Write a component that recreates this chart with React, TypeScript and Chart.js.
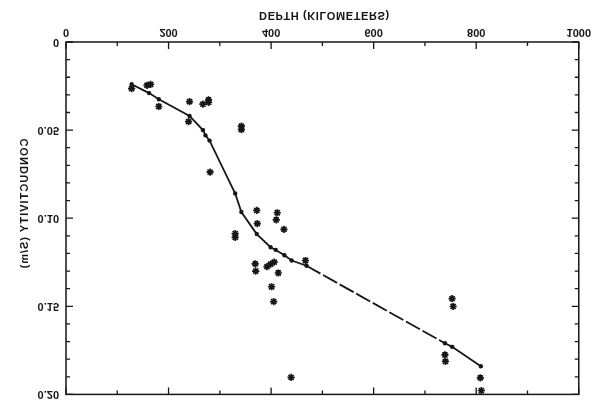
import React, { useEffect, useRef } from "react";
import { Chart, registerables } from "chart.js";

Chart.register(...registerables);

// Model curve (depth in km, conductivity in S/m)
const MODEL_DEPTH = [128, 162, 181, 241, 267, 272, 280, 330, 342, 372, 399, 409, 426, 440, 469, 739, 753, 809];
const MODEL_COND = [0.024, 0.029, 0.0325, 0.042, 0.05, 0.053, 0.056, 0.086, 0.0965, 0.109, 0.1165, 0.118, 0.121, 0.124, 0.127, 0.171, 0.173, 0.184];
const DASHED_SEGMENT_START = 14;

// Observations (asterisks)
const OBS_DEPTH = [128, 158, 165, 181, 241, 267, 278, 278, 239, 342, 342, 281, 372, 373, 412, 410, 425, 330, 330, 369, 370, 392, 399, 406, 414, 467, 401, 405, 439, 753, 755, 739, 740, 808, 810];
const OBS_COND = [0.0265, 0.0246, 0.0241, 0.0366, 0.0338, 0.0353, 0.0343, 0.0329, 0.0452, 0.0478, 0.0497, 0.0739, 0.0956, 0.1031, 0.0969, 0.101, 0.1063, 0.1087, 0.1109, 0.1259, 0.13, 0.1275, 0.1261, 0.1249, 0.1311, 0.124, 0.1389, 0.1473, 0.1903, 0.1457, 0.1501, 0.1776, 0.1813, 0.1906, 0.1978];

// Axes
const X_MAJOR = [0, 200, 400, 600, 800, 1000];
const X_MINOR = [100, 300, 500, 700, 900];
const Y_MAJOR = [0, 0.05, 0.1, 0.15, 0.2];
const Y_MINOR = [0.01, 0.02, 0.03, 0.04, 0.06, 0.07, 0.08, 0.09, 0.11, 0.12, 0.13, 0.14, 0.16, 0.17, 0.18, 0.19];
const X_TITLE = "DEPTH (KILOMETERS)";
const Y_TITLE = "CONDUCTIVITY (S/m)";

const INK = "#161616";
const FONT = "'Liberation Sans', Arial, Helvetica, sans-serif";

const frameTicks = {
  id: "frameTicks",
  afterDatasetsDraw(chart: any) {
    const { ctx, chartArea, scales } = chart;
    const { left, right, top, bottom } = chartArea;
    const xs = scales.x;
    const ys = scales.y;
    ctx.save();
    ctx.strokeStyle = INK;
    ctx.lineWidth = 1.5;
    ctx.strokeRect(left, top, right - left, bottom - top);
    ctx.lineWidth = 1.3;
    const tickX = (v: number, len: number) => {
      const px = xs.getPixelForValue(v);
      ctx.beginPath();
      ctx.moveTo(px, bottom);
      ctx.lineTo(px, bottom - len);
      ctx.moveTo(px, top);
      ctx.lineTo(px, top + len);
      ctx.stroke();
    };
    const tickY = (v: number, len: number) => {
      const py = ys.getPixelForValue(v);
      ctx.beginPath();
      ctx.moveTo(left, py);
      ctx.lineTo(left + len, py);
      ctx.moveTo(right, py);
      ctx.lineTo(right - len, py);
      ctx.stroke();
    };
    X_MAJOR.forEach((v) => tickX(v, 7));
    X_MINOR.forEach((v) => tickX(v, 4));
    Y_MAJOR.forEach((v) => tickY(v, 7));
    Y_MINOR.forEach((v) => tickY(v, 4));

    // axis titles
    ctx.fillStyle = INK;
    ctx.font = `bold 11px ${FONT}`;
    ctx.textAlign = "center";
    ctx.textBaseline = "middle";
    try { (ctx as any).letterSpacing = "0.6px"; } catch (e) {}
    ctx.fillText(X_TITLE, (left + right) / 2 + 2, 393);
    try { (ctx as any).letterSpacing = "1px"; } catch (e) {}
    ctx.translate(25, 204);
    ctx.rotate(-Math.PI / 2);
    ctx.fillText(Y_TITLE, 0, 0);
    ctx.restore();
  },
};

export default function App() {
  const ref = useRef<HTMLCanvasElement | null>(null);

  useEffect(() => {
    if (!ref.current) return;
    const chart = new Chart(ref.current, {
      type: "scatter",
      data: {
        datasets: [
          {
            label: "model",
            data: MODEL_DEPTH.map((d, i) => ({ x: d, y: MODEL_COND[i] })),
            showLine: true,
            borderColor: INK,
            backgroundColor: INK,
            borderWidth: 1.8,
            pointRadius: 2.2,
            pointBackgroundColor: INK,
            pointBorderWidth: 0,
            segment: {
              borderDash: (c: any) => (c.p0DataIndex === DASHED_SEGMENT_START ? [16, 3] : undefined),
            },
          } as any,
          {
            label: "observed",
            data: OBS_DEPTH.map((d, i) => ({ x: d, y: OBS_COND[i] })),
            showLine: false,
            pointStyle: "star",
            pointRadius: 3.6,
            borderColor: INK,
            backgroundColor: INK,
            pointBorderWidth: 1.7,
          } as any,
        ],
      },
      options: {
        animation: false,
        responsive: true,
        maintainAspectRatio: false,
        layout: { padding: { top: 9, right: 13, left: 0, bottom: 0 } },
        plugins: { legend: { display: false }, tooltip: { enabled: false } },
        scales: {
          x: {
            type: "linear",
            min: 0,
            max: 1000,
            border: { display: false },
            grid: { display: false, drawTicks: false },
            afterFit: (s: any) => { s.height = 42; },
            ticks: {
              stepSize: 200,
              padding: 3,
              color: INK,
              font: { family: FONT, size: 11, weight: "bold" },
              maxRotation: 0,
              callback: (v: any) => String(v),
            },
          },
          y: {
            type: "linear",
            min: 0,
            max: 0.2,
            border: { display: false },
            grid: { display: false, drawTicks: false },
            afterFit: (s: any) => { s.width = 66; },
            ticks: {
              stepSize: 0.05,
              padding: 7,
              color: INK,
              font: { family: FONT, size: 11, weight: "bold" },
              callback: (v: any) => (Number(v) === 0 ? "0" : Number(v).toFixed(2)),
            },
          },
        },
      },
      plugins: [frameTicks],
    });
    return () => chart.destroy();
  }, []);

  return (
    <div style={{ position: "fixed", left: 0, top: 0, width: 594, height: 408, background: "#fff" }}>
      <canvas ref={ref} style={{ transform: "scaleY(-1)" }} />
    </div>
  );
}
